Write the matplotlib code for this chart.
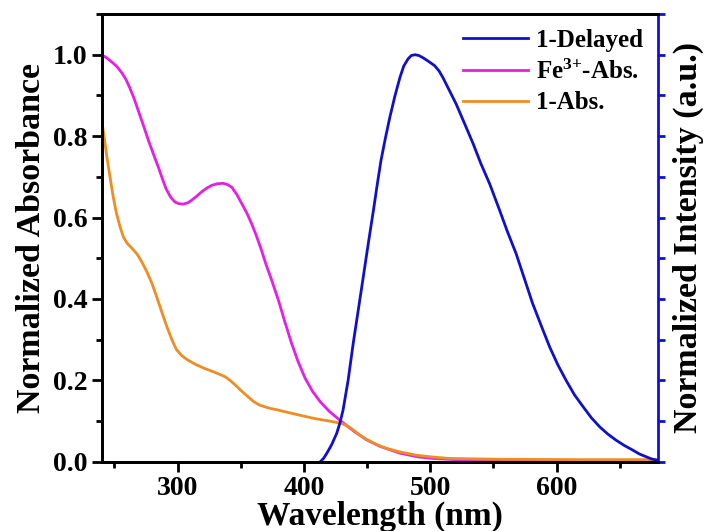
import matplotlib
matplotlib.use('Agg')
import matplotlib.pyplot as plt
import numpy as np
from matplotlib.ticker import MultipleLocator

plt.rcParams['font.family'] = ['Liberation Serif', 'DejaVu Serif']
plt.rcParams['font.weight'] = 'bold'
plt.rcParams['mathtext.fontset'] = 'custom'
plt.rcParams['mathtext.rm'] = 'Liberation Serif:bold'
plt.rcParams['mathtext.bf'] = 'Liberation Serif:bold'
plt.rcParams['mathtext.default'] = 'bf'

# Fe3+ absorption (normalized)
wl_fe = [240, 244, 248, 252, 256, 259, 262, 265.5, 269, 273, 277, 281, 285, 288, 291,
         294.5, 298, 301, 304.5, 308, 311, 315, 319, 323, 327, 331.5, 336, 339.5, 343,
         347, 351, 355, 359, 363, 366.5, 370, 374.5, 380, 385, 390, 395.5, 401, 407,
         413, 420, 430, 440, 449.5, 460, 476, 490, 502, 520, 542, 600, 680]
fe_abs = [1.0, 0.992, 0.982, 0.971, 0.955, 0.94, 0.92, 0.893, 0.862, 0.826, 0.789, 0.755,
          0.722, 0.695, 0.67, 0.65, 0.638, 0.634, 0.633, 0.636, 0.642, 0.652, 0.663, 0.672,
          0.679, 0.683, 0.684, 0.681, 0.674, 0.656, 0.633, 0.61, 0.582, 0.55, 0.519, 0.485,
          0.446, 0.395, 0.343, 0.293, 0.245, 0.205, 0.172, 0.147, 0.124, 0.098, 0.074,
          0.054, 0.038, 0.021, 0.012, 0.008, 0.005, 0.003, 0.002, 0.002]

# compound 1 absorption (normalized)
wl_1 = [240, 242, 244, 246.5, 249, 251.5, 254.5, 257, 260, 264, 268, 271.5, 275.5, 279.5,
        283.5, 287.5, 291.5, 295.5, 299, 303.5, 308.5, 315, 321.5, 330, 337.5, 341.5,
        345.5, 350.5, 356, 360.5, 365, 372, 379.5, 386, 393, 400, 408.5, 420, 430, 435,
        439, 444, 449.5, 457, 465, 476, 489, 500, 515, 535, 555, 620, 680]
abs_1 = [0.838, 0.795, 0.75, 0.7, 0.652, 0.612, 0.577, 0.553, 0.537, 0.524, 0.51, 0.492,
         0.468, 0.44, 0.405, 0.368, 0.332, 0.3, 0.276, 0.26, 0.249, 0.238, 0.229, 0.219,
         0.209, 0.2, 0.189, 0.174, 0.159, 0.147, 0.139, 0.132, 0.127, 0.122, 0.117, 0.112,
         0.106, 0.1, 0.094, 0.087, 0.078, 0.066, 0.055, 0.043, 0.033, 0.024, 0.016, 0.012,
         0.008, 0.007, 0.006, 0.005, 0.005]

# compound 1 delayed emission (normalized)
wl_em = [413, 415.5, 418, 422, 426, 428.5, 431, 435, 439, 443, 447, 451, 455, 458, 461,
         464.5, 468, 472, 476, 479, 482.5, 485, 488, 491, 494, 498, 503.5, 507, 510, 515,
         520.5, 527, 534, 540, 547, 555, 561, 568, 574.5, 581, 588, 594.5, 601, 607.5,
         614, 621, 627.5, 634, 640.5, 647, 653.5, 660, 665.5, 671, 675, 679]
em = [0.0, 0.008, 0.02, 0.042, 0.07, 0.095, 0.127, 0.2, 0.29, 0.372, 0.454, 0.537, 0.617,
      0.68, 0.74, 0.795, 0.846, 0.898, 0.944, 0.972, 0.99, 0.998, 1.0, 0.998, 0.993, 0.985,
      0.973, 0.96, 0.944, 0.913, 0.879, 0.832, 0.781, 0.733, 0.683, 0.617, 0.566, 0.511,
      0.45, 0.389, 0.333, 0.282, 0.238, 0.2, 0.165, 0.135, 0.108, 0.086, 0.068, 0.053,
      0.04, 0.029, 0.019, 0.012, 0.007, 0.004]

c_em = '#1010CC'
c_fe = '#E61EE6'
c_1 = '#F08C23'

fig = plt.figure(figsize=(7.09, 5.31), dpi=100)
ax = fig.add_axes([0.1435, 0.1305, 0.7841, 0.8431])
ax2 = ax.twinx()

l_em, = ax2.plot(wl_em, em, color=c_em, lw=2.0, label='1-Delayed')
l_fe, = ax.plot(wl_fe, fe_abs, color=c_fe, lw=2.0, label='Fe$^{3{+}}$-Abs.')
l_1, = ax.plot(wl_1, abs_1, color=c_1, lw=2.0, label='1-Abs.')

ax.set_xlim(240, 680)
ax.set_ylim(0, 1.1)
ax2.set_ylim(0, 1.1)

ax.xaxis.set_major_locator(MultipleLocator(100))
ax.xaxis.set_minor_locator(MultipleLocator(50))
ax.yaxis.set_minor_locator(MultipleLocator(0.1))
ax.set_yticks(np.arange(0, 1.01, 0.2))
ax.tick_params(which='major', direction='out', length=7, width=2, labelsize=20)
ax.tick_params(which='minor', direction='out', length=4, width=2)
ax.tick_params(axis='x', pad=3)
ax.tick_params(top=False, right=False, which='both')

ax2.set_yticks(np.arange(0, 1.11, 0.1))
ax2.tick_params(axis='y', direction='out', length=5, width=2, colors=c_em,
                labelright=False)

for s in ['left', 'bottom', 'top']:
    ax.spines[s].set_linewidth(2)
    ax2.spines[s].set_linewidth(2)
ax2.spines['right'].set_linewidth(2)
ax2.spines['right'].set_color('#1010E0')
ax.spines['right'].set_visible(False)

ax.set_xlabel('Wavelength (nm)', fontsize=24, fontweight='bold', labelpad=0)
ax.set_ylabel('Normalized Absorbance', fontsize=24.5, fontweight='bold', labelpad=4)
ax2.set_ylabel('Normalized Intensity (a.u.)', fontsize=24.5, fontweight='bold',
               color='black', labelpad=6)

ax.legend(handles=[l_em, l_fe, l_1], loc='upper right', frameon=False,
          fontsize=18, handlelength=2.6, handletextpad=0.3, labelspacing=0.3,
          borderaxespad=0.2, bbox_to_anchor=(1.0, 1.0))

fig.savefig('out.png', dpi=100)
